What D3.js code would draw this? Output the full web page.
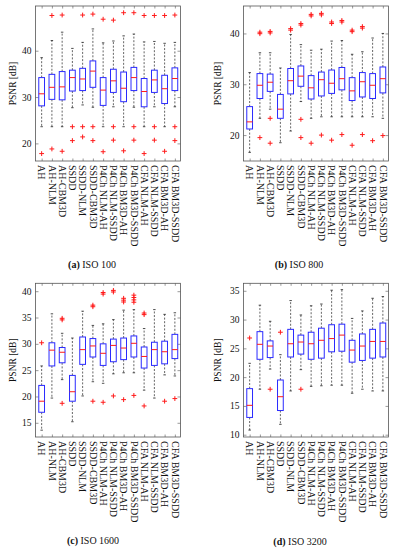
<!DOCTYPE html>
<html><head><meta charset="utf-8">
<script src="https://cdn.jsdelivr.net/npm/d3@7"></script>
<style>
body{margin:0;background:#fff}
svg{display:block}
text{font-family:"Liberation Serif","Times New Roman",serif;fill:#111}
</style>
</head><body>
<svg id="chart" width="396" height="550"></svg>
<script>
const categories = ["AH","AH-NLM","AH-CBM3D","SSDD","SSDD-NLM","SSDD-CBM3D",
  "P4Ch NLM-AH","P4Ch NLM-SSDD","P4Ch BM3D-AH","P4Ch BM3D-SSDD",
  "CFA NLM-AH","CFA NLM-SSDD","CFA BM3D-AH","CFA BM3D-SSDD"];

// (a) ISO 100
const iso100Low  = [23.6,23.6,23.6,27.7,28.3,27.8,23.6,27.9,23.6,27.8,23.6,27.9,23.6,27.9];
const iso100Q1   = [28.1,29.5,29.4,31.3,31.4,32.1,28.2,31.0,29.0,31.4,27.9,31.0,28.6,31.4];
const iso100Med  = [30.7,32.1,32.2,34.2,33.9,35.6,31.5,33.5,31.9,34.2,31.2,33.7,31.8,34.0];
const iso100Q3   = [34.2,34.9,35.5,35.8,36.2,37.8,34.2,36.0,35.4,36.4,34.0,35.8,34.7,36.3];
const iso100High = [38.5,42.2,44.0,40.5,41.8,44.7,41.7,42.1,43.2,43.6,41.9,42.0,41.6,41.8];
const iso100Out  = [[17.8],[47.6,18.8],[47.7,18.3],[23.6,20.6],[47.7,23.6,21.4],[47.9,23.6,20.6],
  [46.8,18.2],[46.6,23.6,20.7],[48.2,18.4],[48.2,23.6,20.7],[47.6,17.8],[47.6,23.6,20.7],[47.6,18.3],[47.7,23.6,20.6]];

// (b) ISO 800
const iso800Low  = [16.6,23.3,25.1,18.5,20.8,26.6,23.3,23.6,23.6,23.6,23.6,23.6,23.6,23.3];
const iso800Q1   = [21.2,27.2,28.6,23.3,28.1,29.6,27.1,27.7,28.2,28.9,26.8,27.5,27.2,28.3];
const iso800Med  = [22.6,29.8,30.4,25.1,30.7,31.6,29.3,30.9,30.2,31.1,28.7,30.5,29.8,31.1];
const iso800Q3   = [25.6,32.1,32.0,28.0,33.1,33.6,31.7,32.4,32.8,33.3,31.3,32.3,32.1,33.4];
const iso800High = [32.3,36.2,36.2,33.2,39.8,37.8,36.7,36.9,38.5,38.6,35.9,36.4,39.1,40.0];
const iso800Out  = [[],[39.95,40.25,19.5],[40.1,40.4,23.3,18.4],[],[40.65,40.95],[41.65,41.95,23.1,19.5],
  [43.45,43.75,18.4],[43.65,43.95,20.0],[41.95,42.25,19.0],[42.25,42.55,20.1],[40.35,40.65,18.0],[41.05,41.35,20.1],[18.9],[19.9]];

// (c) ISO 1600
const iso1600Low  = [13.6,19.7,23.2,15.2,20.1,22.8,22.5,24.3,24.5,24.5,21.2,19.7,24.1,23.9];
const iso1600Q1   = [17.0,25.8,26.4,19.1,26.1,27.5,25.9,26.6,27.0,27.5,25.4,25.9,26.2,27.2];
const iso1600Med  = [19.1,28.8,28.4,20.9,28.9,29.6,28.2,29.7,29.2,30.1,27.6,28.9,28.5,28.9];
const iso1600Q3   = [22.1,30.2,29.3,24.0,31.3,31.0,30.0,30.9,31.1,31.5,29.4,30.3,30.5,31.8];
const iso1600High = [25.8,35.7,32.0,31.1,36.2,33.5,33.8,34.6,36.4,36.5,32.9,36.5,35.6,35.9];
const iso1600Out  = [[30.2],[],[34.55,34.85,18.7],[],[],[37.05,37.35,19.1],[39.45,39.75,18.9],
  [39.85,40.15,20.1],[37.95,38.3,38.65,19.4],[37.9,38.35,38.8,39.25,20.2],[35.55,35.85,18.2],[],[19.1],[19.6]];

// (d) ISO 3200
const iso3200Low  = [10.8,17.9,21.4,11.8,17.6,21.3,18.4,18.5,18.6,18.6,17.2,17.9,17.6,17.6];
const iso3200Q1   = [13.0,23.1,23.4,14.2,23.5,24.0,23.1,23.3,24.4,24.5,22.6,22.9,23.3,23.5];
const iso3200Med  = [15.1,25.7,25.4,16.6,25.8,26.1,25.8,26.4,26.7,27.3,24.7,25.4,26.2,26.2];
const iso3200Q3   = [18.0,27.9,26.3,19.5,28.3,27.3,27.8,28.5,29.1,29.2,26.4,27.5,28.3,29.4];
const iso3200High = [22.4,32.5,29.7,23.9,33.3,30.8,32.4,32.7,35.1,35.2,30.2,31.5,33.7,34.0];
const iso3200Out  = [[26.8],[],[17.9],[27.8],[],[17.9],[],[],[],[],[],[],[],[]];

const yTicksA = [20,30,40], yTicksB = [20,30,40];
const yTicksC = [15,20,25,30,35,40], yTicksD = [10,15,20,25,30,35];

const panels = [
  {tag:"(a)", title:"ISO 100", low:iso100Low, q1:iso100Q1, med:iso100Med, q3:iso100Q3, high:iso100High, out:iso100Out,
   dom:[16.2,49.65], ticks:yTicksA, left:35.5, right:180.5, top:6, bottom:161, ylabX:13, capX:92, capY:264},
  {tag:"(b)", title:"ISO 800", low:iso800Low, q1:iso800Q1, med:iso800Med, q3:iso800Q3, high:iso800High, out:iso800Out,
   dom:[14.9,45.4], ticks:yTicksB, left:243.5, right:388.5, top:6, bottom:161, ylabX:218, capX:299, capY:264},
  {tag:"(c)", title:"ISO 1600", low:iso1600Low, q1:iso1600Q1, med:iso1600Med, q3:iso1600Q3, high:iso1600High, out:iso1600Out,
   dom:[12.3,41.5], ticks:yTicksC, left:35.5, right:180.5, top:283.3, bottom:437, ylabX:13, capX:93, capY:540},
  {tag:"(d)", title:"ISO 3200", low:iso3200Low, q1:iso3200Q1, med:iso3200Med, q3:iso3200Q3, high:iso3200High, out:iso3200Out,
   dom:[9.6,36.3], ticks:yTicksD, left:243.5, right:388.5, top:283.3, bottom:437, ylabX:218, capX:300, capY:541.5}
];

const svg = d3.select("#chart");
const idx = categories.map((c,i)=>i+1);
const BLUE = "#2a2aff", RED = "#ff1a1a", FRAME = "#555";

panels.forEach(p => {
  const g = svg.append("g");
  const x = d3.scaleLinear().domain([0.4,14.55]).range([p.left,p.right]);
  const y = d3.scaleLinear().domain(p.dom).range([p.bottom,p.top]);

  // axes (ticks inward)
  const styleAxis = sel => {
    sel.select(".domain").remove();
    sel.selectAll(".tick line").attr("stroke",FRAME).attr("stroke-width",0.6);
  };
  g.append("g").attr("transform",`translate(${p.left},0)`)
    .call(d3.axisLeft(y).tickValues(p.ticks).tickSizeInner(-3).tickSizeOuter(0).tickPadding(4).tickFormat(d3.format("d")))
    .call(styleAxis)
    .call(s=>s.selectAll("text").attr("font-size","9.5px").attr("font-family","Liberation Serif").attr("fill","#111"));
  g.append("g").attr("transform",`translate(${p.right},0)`)
    .call(d3.axisRight(y).tickValues(p.ticks).tickSizeInner(-3).tickSizeOuter(0).tickFormat(""))
    .call(styleAxis);
  g.append("g").attr("transform",`translate(0,${p.bottom})`)
    .call(d3.axisBottom(x).tickValues(idx).tickSizeInner(-2.5).tickSizeOuter(0).tickFormat(""))
    .call(styleAxis);
  g.append("g").attr("transform",`translate(0,${p.top})`)
    .call(d3.axisTop(x).tickValues(idx).tickSizeInner(-2.5).tickSizeOuter(0).tickFormat(""))
    .call(styleAxis);

  // frame
  g.append("rect").attr("x",p.left).attr("y",p.top)
    .attr("width",p.right-p.left).attr("height",p.bottom-p.top)
    .attr("fill","none").attr("stroke",FRAME).attr("stroke-width",0.8);

  const hw = 0.28, cw = 0.12;
  categories.forEach((c,i) => {
    const cx = x(i+1);
    const bw = x(1+hw)-x(1), cwp = x(1+cw)-x(1);
    // whiskers
    g.append("line").attr("x1",cx).attr("x2",cx).attr("y1",y(p.q3[i])).attr("y2",y(p.high[i]))
      .attr("stroke","#222").attr("stroke-width",0.7).attr("stroke-dasharray","2,1.6");
    g.append("line").attr("x1",cx).attr("x2",cx).attr("y1",y(p.q1[i])).attr("y2",y(p.low[i]))
      .attr("stroke","#222").attr("stroke-width",0.7).attr("stroke-dasharray","2,1.6");
    [p.high[i],p.low[i]].forEach(v=>{
      g.append("line").attr("x1",cx-cwp).attr("x2",cx+cwp).attr("y1",y(v)).attr("y2",y(v))
        .attr("stroke","#222").attr("stroke-width",0.8);
    });
    // box
    g.append("rect").attr("x",cx-bw).attr("width",2*bw)
      .attr("y",y(p.q3[i])).attr("height",y(p.q1[i])-y(p.q3[i]))
      .attr("fill","#fff").attr("stroke",BLUE).attr("stroke-width",1);
    // median
    g.append("line").attr("x1",cx-bw).attr("x2",cx+bw).attr("y1",y(p.med[i])).attr("y2",y(p.med[i]))
      .attr("stroke",RED).attr("stroke-width",1);
    // outliers
    p.out[i].forEach(v=>{
      const yy = y(v);
      g.append("path").attr("d",`M${cx-2.4},${yy}H${cx+2.4}M${cx},${yy-2.4}V${yy+2.4}`)
        .attr("stroke",RED).attr("stroke-width",1).attr("fill","none");
    });
    // category label
    g.append("text").attr("transform",`translate(${cx},${p.bottom+4}) rotate(90)`)
      .attr("dy","0.33em").attr("text-anchor","start").attr("font-size","10px").text(c);
  });

  // y title
  g.append("text").attr("transform",`translate(${p.ylabX},${(p.top+p.bottom)/2}) rotate(-90)`)
    .attr("text-anchor","middle").attr("dy","0.35em").attr("font-size","9.5px").text("PSNR [dB]");

  // caption
  const cap = g.append("text").attr("x",p.capX).attr("y",p.capY).attr("dy","0.35em")
    .attr("text-anchor","middle").attr("font-size","10px");
  cap.append("tspan").attr("font-weight","bold").text(p.tag);
  cap.append("tspan").text(" " + p.title);
});
</script>
</body></html>
